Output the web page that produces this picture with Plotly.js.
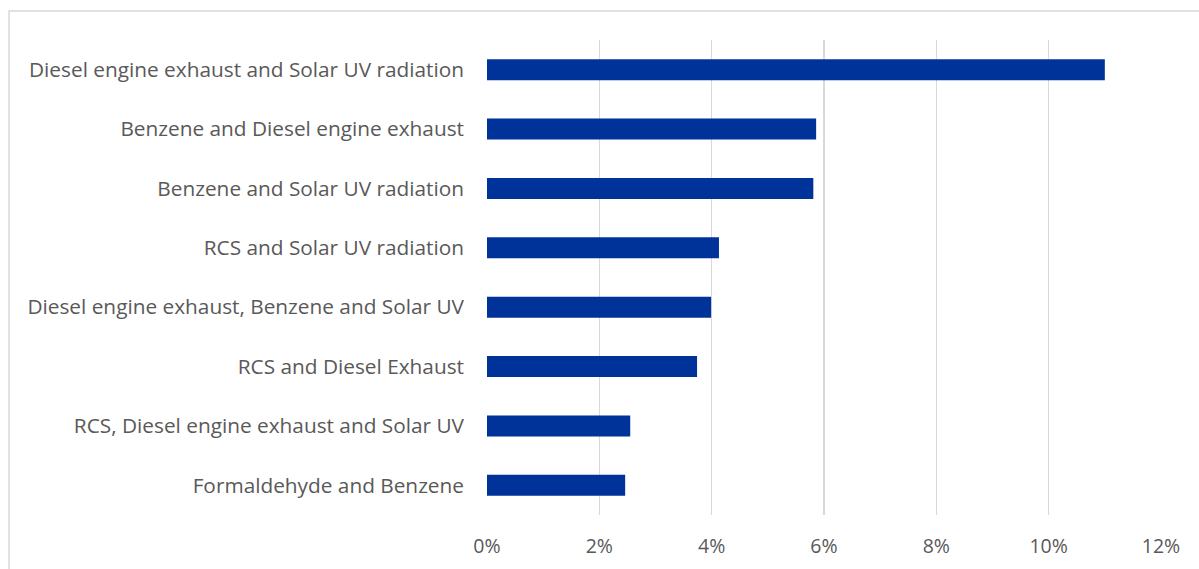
<!DOCTYPE html>
<html>
<head>
<meta charset="utf-8">
<script src="https://cdn.plot.ly/plotly-3.0.1.min.js"></script>
<style>html,body{margin:0;padding:0;background:#fff;}#chart{width:1199px;height:569px;}</style>
</head>
<body>
<div id="chart"></div>
<script>
const categories = [
  "Diesel engine exhaust and Solar UV radiation",
  "Benzene and Diesel engine exhaust",
  "Benzene and Solar UV radiation",
  "RCS and Solar UV radiation",
  "Diesel engine exhaust, Benzene and Solar UV",
  "RCS and Diesel Exhaust",
  "RCS, Diesel engine exhaust and Solar UV",
  "Formaldehyde and Benzene"
];
const values = [0.110, 0.0586, 0.0581, 0.0413, 0.0399, 0.0374, 0.0255, 0.0246];
const tickVals = [0, 0.02, 0.04, 0.06, 0.08, 0.10, 0.12];
const tickText = ["0%", "2%", "4%", "6%", "8%", "10%", "12%"];

const W = 1199, H = 569;
const m = {l: 487, r: 38, t: 40, b: 54};
const pw = W - m.l - m.r, ph = H - m.t - m.b;

const trace = {
  type: 'bar',
  orientation: 'h',
  x: values,
  y: categories,
  marker: {color: '#003399', line: {width: 0}},
  hoverinfo: 'none'
};

const layout = {
  width: W, height: H,
  margin: m,
  paper_bgcolor: '#fff',
  plot_bgcolor: '#fff',
  bargap: 0.645,
  showlegend: false,
  font: {family: '"Open Sans", sans-serif', color: '#595959'},
  xaxis: {
    range: [0, 0.12],
    tickvals: tickVals,
    ticktext: tickText,
    showgrid: true,
    gridcolor: '#d9d9d9',
    gridwidth: 1.3,
    zeroline: false,
    showline: false,
    ticks: '',
    ticklabelstandoff: 17,
    tickfont: {family: '"Open Sans", sans-serif', size: 19.5, color: '#595959'},
    fixedrange: true
  },
  yaxis: {
    autorange: 'reversed',
    showgrid: false,
    zeroline: false,
    showline: false,
    ticks: '',
    ticklabelstandoff: 22,
    tickfont: {family: '"Open Sans", sans-serif', size: 20.8, color: '#595959'},
    fixedrange: true
  },
  shapes: [{
    type: 'rect', xref: 'paper', yref: 'paper',
    x0: (9 - m.l) / pw, x1: (W + 10 - m.l) / pw,
    y0: -(H - m.t - ph + 20) / ph, y1: (H - m.b - 11) / ph,
    line: {color: '#d9d9d9', width: 1.5},
    fillcolor: 'rgba(0,0,0,0)',
    layer: 'below'
  }]
};

Plotly.newPlot('chart', [trace], layout, {displayModeBar: false, staticPlot: true});
</script>
</body>
</html>
